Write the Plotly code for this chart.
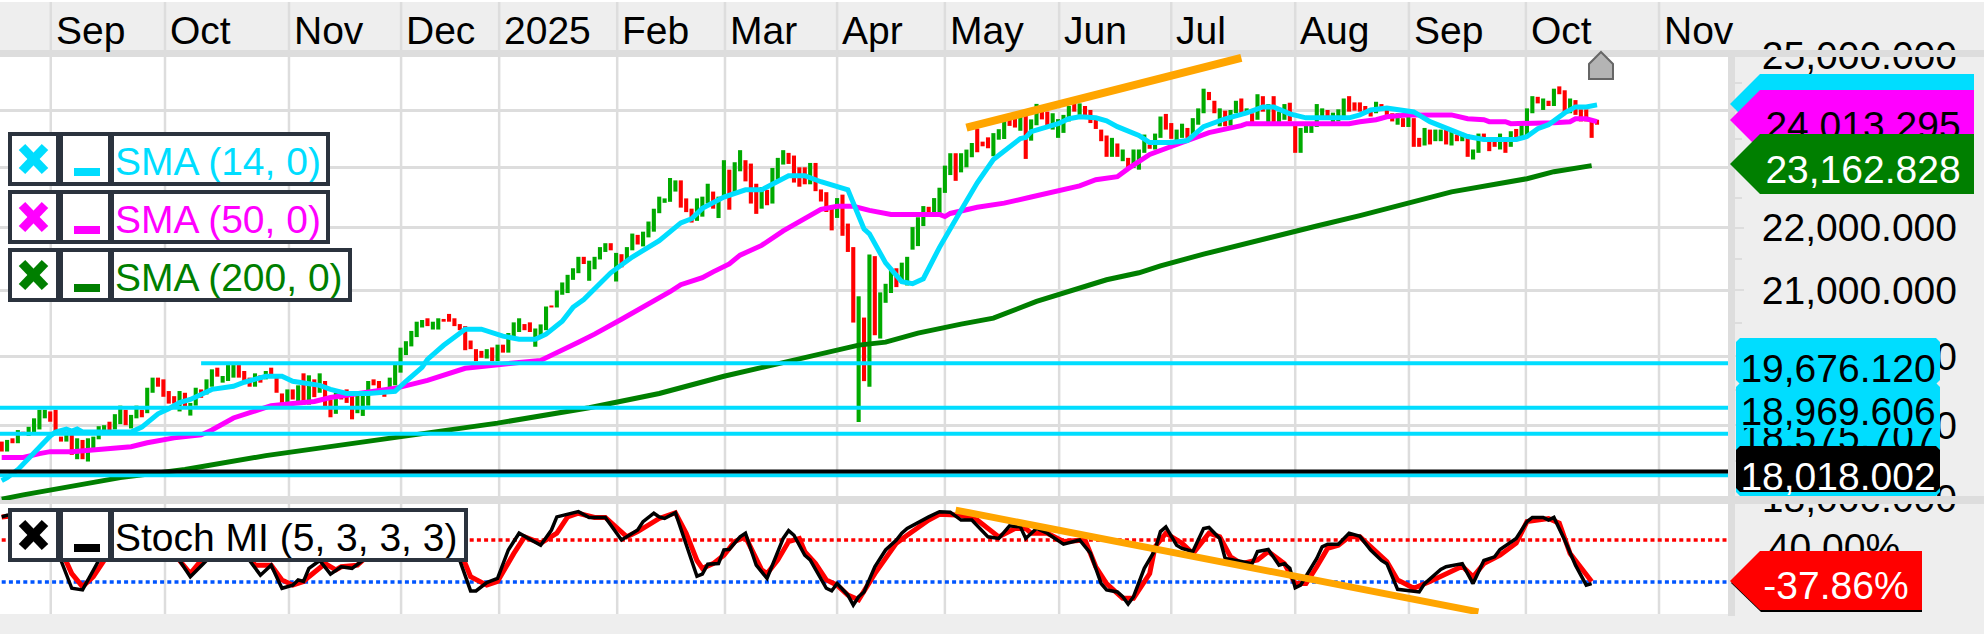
import numpy as np
import plotly.graph_objects as go

W, H = 1984, 634
FONT = "Liberation Sans"
CYAN, MAG, DGREEN = "#00DDFF", "#FF00FF", "#007F00"
BAR_G, BAR_R = "#00AA00", "#FF0000"
BAND, SEP = "#EEEEEE", "#DDDDDD"
FRAME = "#2B333E"
ORANGE = "#FFA500"

# ---- daily ranges, one entry per trading day ----
lows = [
18632,18632,18747,18747,18862,18848,18862,18940,19097,19049,
18908,18770,18770,18586,18526,18526,18494,18678,18802,18908,
18908,18940,19015,19000,18954,19097,19112,19170,19463,19551,
19405,19307,19307,19195,19268,19136,19278,19390,19439,19551,
19697,19610,19634,19683,19683,19634,19551,19551,19610,19658,
19683,19463,19292,19317,19366,19307,19292,19292,19400,19463,
19268,19112,19161,19366,19317,19083,19170,19131,19278,19571,
19439,19405,19512,19571,19756,20016,20145,20285,20430,20451,
20399,20399,20518,20518,20451,20389,20088,20104,19925,19975,
19965,19925,19925,20052,20052,20285,20362,20389,20362,20140,
20285,20389,20736,20736,20933,20959,21166,21271,21416,21151,
21333,21489,21609,21635,21140,21364,21453,21635,21729,21698,
21844,21937,22240,22412,22429,22600,22332,22258,22086,22114,
22183,22400,22315,22160,22503,22298,22543,22943,22772,22400,
22229,22315,22372,22400,22800,23058,23069,22752,22682,22723,
22723,22607,22434,22260,21958,22162,21870,21609,20505,19045,
19632,19549,20313,20263,20808,20960,21052,21115,21078,21646,
21703,22029,22231,22231,22231,22578,22879,22781,22925,23011,
23184,23270,23373,23339,23201,23488,23500,23730,23701,23644,
23155,23471,23741,23845,23723,23665,23520,23607,23809,23983,
23925,23896,23780,23676,23462,23191,23191,23191,23116,22971,
23000,22971,23260,23330,23318,23520,23665,23503,23462,23520,
23520,23578,23751,23954,24189,23954,23723,23723,23734,23954,
23925,23954,23751,23838,23983,23751,23751,23751,23838,23809,
23260,23260,23607,23607,23711,23838,23838,23751,23809,23896,
23983,24000,23983,23942,23896,23954,24012,23867,23809,23751,
23711,23711,23364,23364,23387,23405,23462,23462,23405,23387,
23462,23462,23191,23145,23260,23462,23289,23364,23318,23260,
23364,23462,23491,23549,23954,24130,24012,24083,24083,24295,
23954,23954,23925,23809,23809,23520,23751,
]
highs = [
18770,18793,18816,18931,18908,18977,19097,19219,19219,19195,
19219,18839,18862,18862,18816,18793,18816,18839,18986,19000,
19049,19156,19278,19219,19146,19278,19219,19536,19683,19683,
19658,19488,19414,19488,19463,19317,19536,19512,19658,19805,
19829,19707,19868,19868,19868,19780,19683,19746,19717,19780,
19829,19683,19453,19512,19512,19571,19746,19717,19658,19746,
19634,19366,19463,19488,19512,19414,19439,19439,19634,19658,
19634,19512,19683,19878,20126,20223,20378,20518,20544,20570,
20518,20570,20560,20637,20570,20482,20451,20233,20104,20078,
20104,20130,20171,20171,20347,20508,20570,20482,20508,20415,
20477,20751,20767,21000,21125,21245,21349,21531,21531,21469,
21531,21687,21750,21750,21594,21573,21687,21906,21885,21937,
22103,22314,22515,22486,22829,22789,22789,22486,22315,22486,
22515,22732,22600,22515,23133,22971,23098,23306,23133,23075,
22732,22675,22629,23000,23173,23306,23259,23213,23011,23011,
23086,23086,22636,22590,22318,22491,22549,22069,21687,20909,
20581,21568,21542,20970,21104,21349,21349,21438,21531,22012,
22173,22358,22346,22491,22665,23040,23253,23253,23253,23316,
23431,23684,23454,23529,23603,23672,23816,23845,23874,23902,
23914,23845,24121,24017,23983,23954,23850,23925,24083,24130,
24130,24083,24012,23838,23665,23561,23520,23422,23318,23173,
23318,23318,23578,23405,23595,23896,23942,23780,23665,23769,
23694,23867,24041,24395,24336,24177,24041,24000,24012,24177,
24218,24041,23954,24295,24260,24118,24260,23983,24118,24142,
23734,23694,23751,23751,24118,24041,24012,23965,24024,24218,
24260,24148,24148,24083,24012,24159,24118,24012,23954,23954,
23867,23954,23867,23520,23694,23665,23665,23665,23665,23665,
23578,23607,23578,23318,23595,23595,23520,23462,23595,23520,
23636,23676,23751,24041,24260,24248,24218,24177,24395,24437,
24366,24218,24189,24024,24024,23838,23838,
]
directions = "".join([
"RGRGRGGGGR","RRGRGRGGGG","RGGRGGRGGR","RRRGRGGRGG","RGGGRRRGRG",
"RRRGRGRGRG","RRGRRRGGGR","RRGGGGGGGR","GGRRRRRRRR","GRGRGGGRRG",
"GGRGGGGGRG","GGGRGRGGRG","GGGGGGRRRG","GGRGGRGGRR","RGRGGGRRRR",
"GRRRRGRRRG","RGRGGGRGGG","GGRGGGGRGG","GRRRGGGRRG","RGGRRGGGGR",
"GRRRRRGRGR","GGGRGGRRGG","RGGGRRGRGG","RGRGRGRGGR","RGGGGGRGGG",
"RRRRRGRRRG","RGRRGRGGRG","RGRGGRRRGR","GRGGGRGRGR","RGRRRRR",
])

# ---- moving averages: bar index and value ----
sma14_idx = [0,1,3,6,8,9,10,12,13,14,15,20,24,26,29,31,33,35,37,39,43,45,49,52,54,57,59,61,64,68,71,73,75,78,79,82,85,86,89,93,96,99,101,104,106,108,113,117,122,126,128,130,134,138,141,146,149,152,157,160,161,164,167,169,171,174,178,181,184,189,190,191,196,198,200,203,205,207,211,213,217,220,223,227,231,234,236,239,242,248,250,252,254,257,260,262,265,269,272,275,281,283,285,287,290,292,294,296]
sma14 = [18233,18274,18383,18616,18753,18849,18904,18945,18918,18945,18904,18904,18904,18973,19161,19234,19322,19366,19439,19512,19556,19616,19703,19703,19630,19586,19571,19512,19454,19454,19468,19483,19630,19835,19952,20162,20344,20405,20405,20299,20253,20253,20329,20526,20738,20859,21277,21527,21792,22080,22149,22320,22509,22629,22629,22868,22868,22766,22629,21980,21903,21434,21136,21105,21183,21683,22287,22749,23144,23509,23526,23630,23769,23856,23891,23873,23821,23717,23561,23439,23439,23474,23717,23856,23960,24067,24067,23943,23873,23873,23873,23925,24013,24049,24013,23977,23804,23665,23543,23491,23491,23543,23682,23752,23960,24067,24067,24103]

sma50_idx = [0,4,7,9,13,18,20,24,27,32,37,39,43,47,50,54,58,61,65,68,73,79,86,96,100,107,110,115,121,124,126,130,132,135,137,141,145,149,151,152,155,158,161,165,169,174,175,176,181,186,191,195,200,203,207,209,213,217,224,230,231,244,250,252,255,257,261,269,272,275,276,279,280,288,291,292,294,296]
sma50 = [18550,18550,18603,18630,18630,18658,18671,18699,18753,18822,18863,18932,19102,19205,19278,19307,19337,19395,19439,19468,19527,19644,19820,19907,19937,20207,20329,20556,20830,20980,21090,21199,21292,21418,21558,21714,21950,22150,22236,22304,22355,22355,22287,22218,22218,22218,22184,22236,22338,22407,22509,22595,22697,22800,22851,22988,23231,23370,23613,23734,23769,23769,23769,23804,23839,23891,23925,23925,23856,23839,23804,23804,23769,23787,23804,23856,23856,23804]

sma200_idx = [0,4,22,34,49,61,74,92,109,122,134,148,159,164,170,178,184,192,201,205,211,215,223,230,234,244,252,261,269,283,288,295]
sma200 = [17985,18041,18274,18384,18575,18699,18836,19029,19248,19453,19703,19952,20164,20209,20345,20481,20572,20829,21074,21167,21277,21386,21574,21730,21824,22029,22200,22406,22595,22817,22937,23040]

# ---- stochastic momentum index ----
smi_idx = [0,1,4,7,11,13,15,18,21,24,27,30,33,35,38,41,44,46,48,50,52,54,55,56,57,59,61,63,65,67,70,73,76,79,82,85,87,88,90,92,94,96,100,102,103,107,109,112,115,118,119,121,122,123,125,129,130,131,133,134,135,137,138,140,142,145,146,147,149,150,153,154,155,157,158,159,160,162,164,166,167,168,172,174,176,178,180,183,185,187,189,190,192,194,197,200,202,204,205,207,208,209,210,212,214,215,216,218,219,221,223,224,226,227,230,232,233,235,237,238,239,240,241,244,245,246,248,250,252,254,256,257,259,263,264,267,268,271,273,275,277,278,281,283,284,286,287,288,290,292,294,295]
smi = [84,87,90,60,1,-52,-55,1,30,60,70,50,1,-30,1,30,40,1,-27,-8,-52,-46,-36,-39,-14,1,-25,-11,-14,1,30,70,85,85,60,1,-57,-57,-41,-33,21,53,30,59,84,94,83,83,40,59,75,91,84,81,92,-29,-25,-6,-5,21,22,46,53,-8,-33,43,58,49,11,2,-52,-57,-43,-65,-84,-68,-59,-11,21,40,53,62,84,94,93,78,78,46,43,67,65,43,62,53,32,40,15,-43,-55,-59,-68,-82,-68,-14,21,56,65,30,24,18,62,64,43,5,-1,-5,18,22,-8,-5,-14,-51,-46,5,27,32,32,53,47,21,1,-5,-54,-59,-43,-16,-11,-5,-43,1,8,22,43,75,83,83,78,83,40,-8,-46,-43]

signal_idx = [0,4,8,11,13,15,17,19,22,25,28,31,33,35,37,42,44,47,50,52,54,56,57,60,62,63,66,69,73,77,80,83,86,87,90,92,95,97,100,103,105,107,110,112,116,118,122,125,127,129,130,132,134,136,138,141,142,144,146,148,149,151,153,155,157,159,162,164,166,168,172,174,178,181,184,185,188,190,191,194,197,201,203,205,208,210,213,214,216,219,221,224,226,228,230,233,235,238,240,242,244,246,248,250,252,255,257,259,262,265,268,271,273,275,278,281,283,287,289,291,295]
signal = [84,88,62,21,-24,-49,-30,1,30,60,68,45,1,-24,1,30,38,-8,-8,-36,-46,-39,-30,-5,-17,-11,-8,20,62,83,83,55,-5,-30,-46,-39,14,46,34,53,84,91,83,83,46,56,81,92,53,1,-14,-5,11,37,46,-17,-24,2,37,43,18,-5,-36,-46,-65,-74,-24,5,34,49,78,89,87,78,53,46,62,62,53,53,37,40,-11,-43,-71,-71,-24,27,53,34,14,53,46,8,-5,2,18,-5,-43,-43,-11,24,30,46,46,18,-1,-36,-52,-39,-24,-10,-30,-5,11,34,75,81,72,14,-39]

# ---- level lines ----
level_lines = [19893, 19249, 18881, 18305, 18356]
level_colors = [CYAN, CYAN, CYAN, CYAN, "#000000"]
level_starts = [37, -1, -1, -1, -1]
level_labels = ["19,676.120", "18,969.606", "18,575.707", "18,018.002"]

smi_levels = [40, -40]
trend_price_idx, trend_price = [179, 230], [23700, 24960]
trend_smi_idx, trend_smi = [177, 274], [97, -97]

# ---- axes text ----
month_labels = ["Sep","Oct","Nov","Dec","2025","Feb","Mar","Apr","May","Jun","Jul","Aug","Sep","Oct","Nov"]
month_idx = [9.1,30.3,53.3,74.1,92.3,114.2,134.2,155,175,196.2,217,240,261.1,282.8,307.5]
price_ticks = [25000,24000,23000,22000,21000,20000,19000,18000]
price_ticktext = ["25,000.000","24,000.000","23,000.000","22,000.000","21,000.000","20,000.000","19,000.000","18,000.000"]
price_minor = [24500,23500,22500,21500,20500,19500,18500]

X_END = 320.3

def PX(p): return p / W
def PY(p): return 1 - p / H

shapes = []
def rect(x0, y0, x1, y1, fill, layer="above"):
    shapes.append(dict(type="rect", xref="paper", yref="paper", x0=PX(x0), x1=PX(x1), y0=PY(y1), y1=PY(y0),
                       fillcolor=fill, line=dict(width=0), layer=layer))
def poly(points, fill, line=None, layer="above"):
    path = "M " + " L ".join(f"{PX(a):.5f},{PY(b):.5f}" for a, b in points) + " Z"
    shapes.append(dict(type="path", xref="paper", yref="paper", path=path, fillcolor=fill,
                       line=line or dict(width=0), layer=layer))
def rbox(x0, y0, x1, y1, fill, r=4):
    pts = [(x0+r,y0),(x1-r,y0),(x1,y0+r),(x1,y1-r),(x1-r,y1),(x0+r,y1),(x0,y1-r),(x0,y0+r)]
    poly(pts, fill)
def text(cx, cy, s, color="#000000", size=39, pos="middle center", x0=None, x1=None):
    if x0 is None:
        x0, x1 = cx - 160, cx + 160
    shapes.append(dict(type="rect", xref="paper", yref="paper", x0=PX(x0), x1=PX(x1), y0=PY(cy+30), y1=PY(cy-30),
                       fillcolor="rgba(0,0,0,0)", line=dict(width=0), layer="above",
                       label=dict(text=s, font=dict(family=FONT, size=size, color=color),
                                  textposition=pos, padding=0)))

# background bands (under the plot)
rect(0, 2, W, 50, BAND, "below")
rect(0, 614, W, H, BAND, "below")
rect(1728, 2, W, H, BAND, "below")
rect(0, 50, 1728, 57, SEP, "below")
rect(0, 496, 1728, 504, SEP, "below")
for t in month_idx:
    shapes.append(dict(type="line", xref="x", yref="paper", x0=t, x1=t, y0=PY(614), y1=PY(2),
                       line=dict(color=SEP, width=2.5), layer="below"))

# right panel overlays
rect(1728, 50, W, 57, SEP)
rect(1728, 496, W, 504, SEP)
rect(1728, 57, 1735, 616, SEP)

# marker above the last bar
poly([(1601,52),(1613,64),(1613,79),(1589,79),(1589,64)], "#B4B4B4", dict(color="#666666", width=2))

# moving average callouts
poly([(1730,104),(1760,74),(1974,74),(1974,134),(1760,134)], CYAN)
poly([(1730,120),(1760,90),(1974,90),(1974,150),(1760,150)], MAG)
text(1863, 121, "24,013.295")
poly([(1730,164),(1760,134),(1974,134),(1974,194),(1760,194)], DGREEN)
text(1863, 165, "23,162.828", "#FFFFFF")

# level labels
rbox(1736, 450, 1940, 496, CYAN)
rbox(1736, 412, 1940, 458, CYAN)
text(1838, 432, level_labels[2])
rbox(1736, 383, 1940, 428, CYAN)
text(1838, 407, level_labels[1])
rbox(1736, 338, 1940, 384, CYAN)
text(1838, 364, level_labels[0])
rbox(1736, 446, 1940, 492, "#000000")
text(1838, 472, level_labels[3], "#FFFFFF")

# stochastic axis text and callout
text(1834, 543, "40.00%")
poly([(1731,583),(1761,612),(1922,612),(1922,552),(1761,552)], "#000000")
poly([(1730,581),(1760,551),(1922,551),(1922,610),(1760,610)], "#FF0000")
text(1836, 581, "-37.86%", "#FFFFFF")

# indicator legends
def legend(top, right, color, label):
    rect(8, top, right, top+54, FRAME)
    rect(12, top+4, 56, top+50, "#FFFFFF")
    rect(63, top+4, 108, top+50, "#FFFFFF")
    rect(114, top+4, right-4, top+50, "#FFFFFF")
    for (a, b, c, d) in [(22, top+15, 45, top+39), (45, top+15, 22, top+39)]:
        shapes.append(dict(type="line", xref="paper", yref="paper", x0=PX(a), x1=PX(c), y0=PY(b), y1=PY(d),
                           line=dict(color=color, width=9), layer="above"))
    rect(74, top+36, 100, top+44, color)
    text(0, top+25, label, color, 39, "middle left", x0=112, x1=right)
    rect(8, top+50, right, top+54, FRAME)
    rect(right-4, top, right, top+54, FRAME)

legend(132, 330, CYAN, "SMA (14, 0)")
legend(190, 330, MAG, "SMA (50, 0)")
legend(248, 352, DGREEN, "SMA (200, 0)")
legend(508, 468, "#000000", "Stoch MI (5, 3, 3, 3)")

fig = go.Figure()
idx = np.arange(len(lows))
fig.add_trace(go.Bar(x=idx, y=np.array(highs) - np.array(lows), base=lows, width=0.76,
                     marker=dict(color=[BAR_G if d == "G" else BAR_R for d in directions], line=dict(width=0)),
                     name="Price"))
fig.add_trace(go.Scatter(x=sma200_idx, y=sma200, mode="lines", line=dict(color=DGREEN, width=5), name="SMA 200"))
fig.add_trace(go.Scatter(x=sma50_idx, y=sma50, mode="lines", line=dict(color=MAG, width=5), name="SMA 50"))
fig.add_trace(go.Scatter(x=sma14_idx, y=sma14, mode="lines", line=dict(color=CYAN, width=5), name="SMA 14"))
for v, c, s in zip(level_lines, level_colors, level_starts):
    fig.add_trace(go.Scatter(x=[s, X_END], y=[v, v], mode="lines", line=dict(color=c, width=4), name="Level"))
fig.add_trace(go.Scatter(x=trend_price_idx, y=trend_price, mode="lines", line=dict(color=ORANGE, width=8), name="Trend"))

for v, c in zip(smi_levels, ["#FF0000", "#0055FF"]):
    fig.add_trace(go.Scatter(x=[0, X_END], y=[v, v], mode="lines", yaxis="y2",
                             line=dict(color=c, width=3.5, dash="4px,3.2px"), name="SMI level"))
fig.add_trace(go.Scatter(x=signal_idx, y=signal, mode="lines", yaxis="y2", line=dict(color="#FF0000", width=5), name="Signal"))
fig.add_trace(go.Scatter(x=smi_idx, y=smi, mode="lines", yaxis="y2", line=dict(color="#000000", width=3.5), name="Stoch MI"))
fig.add_trace(go.Scatter(x=trend_smi_idx, y=trend_smi, mode="lines", yaxis="y2", line=dict(color=ORANGE, width=7), name="Trend"))

annotations = [dict(x=t, y=PY(30), xref="x", yref="paper", text=s, showarrow=False, xanchor="left", yanchor="middle",
                    xshift=3, font=dict(family=FONT, size=39, color="#000000"))
               for t, s in zip(month_idx, month_labels)]

fig.update_layout(
    template="none",
    width=W, height=H, margin=dict(l=0, r=0, t=0, b=0, pad=0), showlegend=False,
    paper_bgcolor="#FFFFFF", plot_bgcolor="rgba(0,0,0,0)", barmode="overlay", hovermode=False,
    shapes=shapes, annotations=annotations,
    xaxis=dict(domain=[0, 1728/W], range=[-0.315, X_END], visible=False, anchor="y", automargin=False),
    yaxis=dict(domain=[PY(500), PY(54)], type="log", range=[4.25462, 4.39849], side="right", anchor="x", automargin=False,
               tickmode="array", tickvals=price_ticks, ticktext=price_ticktext,
               tickfont=dict(family=FONT, size=39, color="#000000"),
               showgrid=True, gridcolor=SEP, gridwidth=2.5, zeroline=False, showline=False,
               ticks="outside", ticklen=15, tickwidth=2, tickcolor=SEP, ticklabelstandoff=10,
               minor=dict(tickmode="array", tickvals=price_minor, ticks="outside", ticklen=13, tickwidth=2,
                          tickcolor=SEP, showgrid=False)),
    yaxis2=dict(domain=[PY(614), PY(504)], range=[-101, 108.6], anchor="x", visible=False, automargin=False),
)

fig.write_html("out.html", config=dict(displayModeBar=False),
               post_script="document.body.style.margin='0';document.documentElement.style.overflow='hidden';")
